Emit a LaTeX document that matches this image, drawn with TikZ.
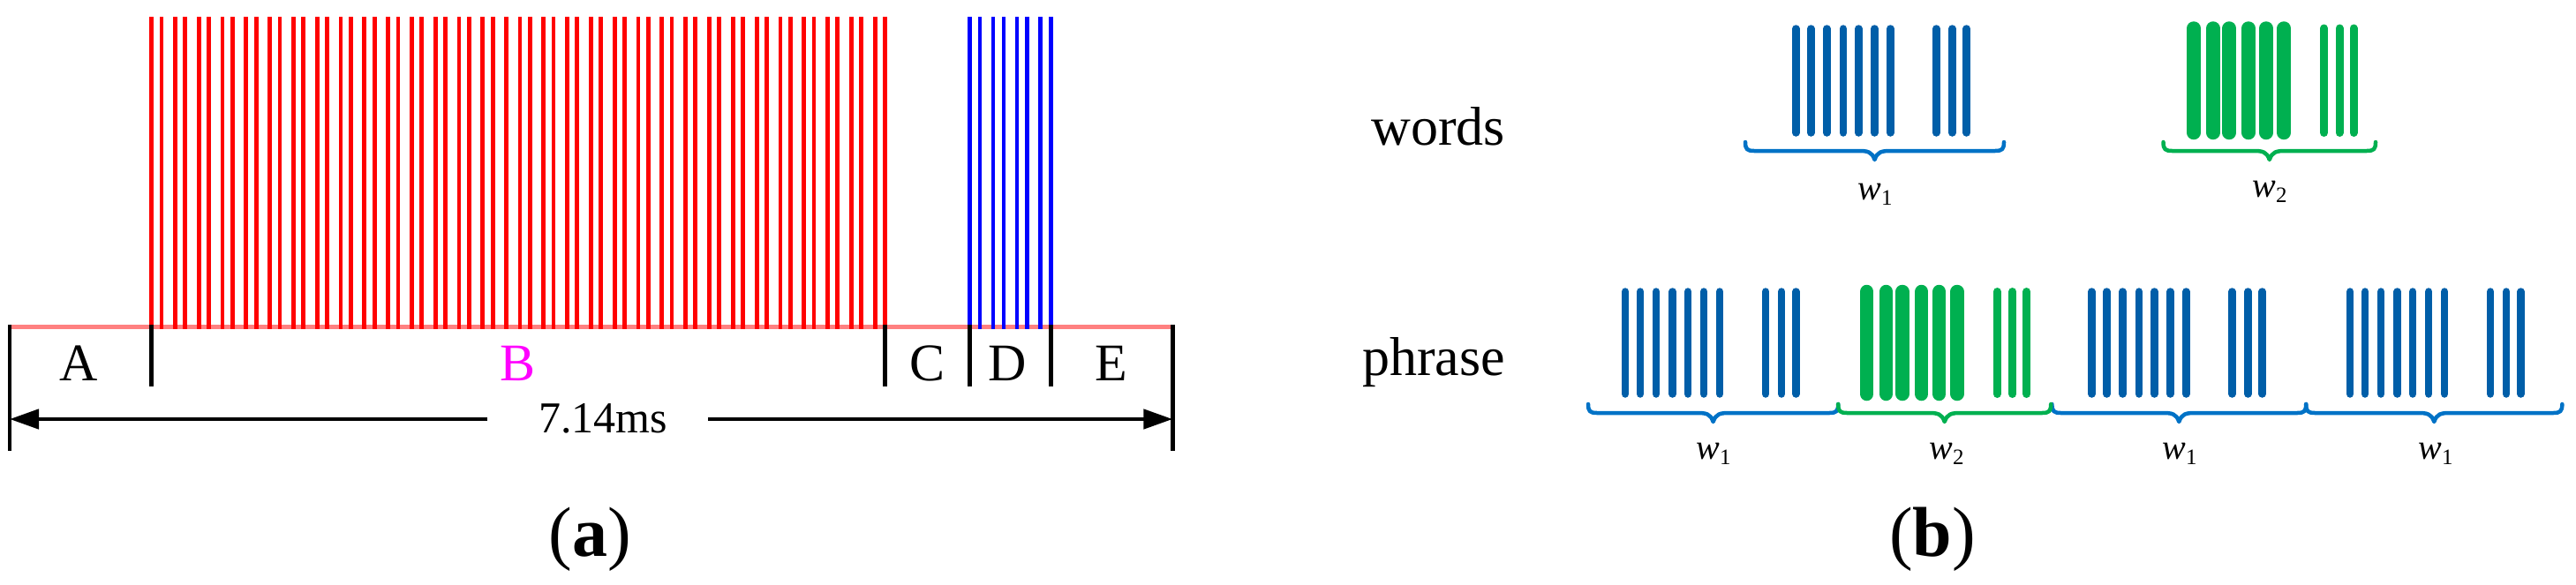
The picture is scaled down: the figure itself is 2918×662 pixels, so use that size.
\documentclass[tikz,border=0pt]{standalone}
\usepackage{fontspec}
\setmainfont{Liberation Serif}
\usetikzlibrary{arrows.meta}
\definecolor{redline}{RGB}{255,0,0}
\definecolor{pinkbase}{RGB}{255,128,128}
\definecolor{blueline}{RGB}{0,0,255}
\definecolor{magentaB}{RGB}{255,0,255}
\definecolor{barblue}{RGB}{0,94,168}
\definecolor{braceblue}{RGB}{0,114,198}
\definecolor{bargreen}{RGB}{0,176,80}
\tikzset{
  redpulse/.style={draw=redline, line width=4.8pt},
  bluepulse/.style={draw=blueline, line width=4.5pt},
  baseln/.style={draw=pinkbase, line width=5.2pt},
  tickln/.style={draw=black, line width=4.6pt},
  dimarrow/.style={draw=black, line width=4.6pt, -{Triangle[length=33pt,width=22pt]}},
  seglabel/.style={font=\fontsize{60}{60}\selectfont, anchor=base, inner sep=0pt},
  panellabel/.style={font=\fontsize{80}{80}\selectfont, anchor=base, inner sep=0pt},
  rowlabel/.style={font=\fontsize{62}{62}\selectfont, anchor=base east, inner sep=0pt},
  wbar/.style={draw=barblue, line width=8.5pt, line cap=round},
  gthick/.style={draw=bargreen, line width=15.5pt, line cap=round},
  gthin/.style={draw=bargreen, line width=9pt, line cap=round},
  bracebl/.style={draw=braceblue, line width=4.5pt, line join=round, line cap=round},
  bracegr/.style={draw=bargreen, line width=4.5pt, line join=round, line cap=round},
  wlabel/.style={font=\fontsize{40}{40}\selectfont, anchor=base, inner sep=0pt}
}
% word w1 bars: #1 = x of first bar, #2 = top y, #3 = bottom y (line centres)
\newcommand\wordone[3]{%
  \foreach \o in {0,17,35,53.5,71,89,107,159,177,193.3}{\draw[wbar] (#1+\o,#2) -- (#1+\o,#3);}}
\newcommand\wordtwo[3]{%
  \foreach \o in {0,21.8,40.2,62,82,102.2}{\draw[gthick] (#1+\o,#2) -- (#1+\o,#3);}
  \foreach \o in {147.5,165,181}{\draw[gthin] (#1+\o,#2) -- (#1+\o,#3);}}
% brace: #1 x1, #2 x2, #3 y of ends, #4 style
\newcommand\wbrace[4]{%
  \pgfmathsetmacro\bxm{(#1+#2)/2}%
  \draw[#4] (#1,#3) .. controls (#1,#3+8) and (#1+2,#3+10) .. (#1+10,#3+10)
    -- (\bxm-18,#3+10) .. controls (\bxm-8,#3+10) and (\bxm-3,#3+11) .. (\bxm,#3+20)
    .. controls (\bxm+3,#3+11) and (\bxm+8,#3+10) .. (\bxm+18,#3+10)
    -- (#2-10,#3+10) .. controls (#2-2,#3+10) and (#2,#3+8) .. (#2,#3);}
\newcommand\wsub[1]{{\itshape w}\raisebox{-6pt}{\fontsize{25}{25}\selectfont #1}}
\begin{document}
\begin{tikzpicture}[x=1pt,y=-1pt]
\useasboundingbox (0,0) rectangle (2918,662);
% ---------------- panel (a) ----------------
\draw[baseln] (11,370.5) -- (1328,370.5);
\foreach \k in {0,...,14}{
  \draw[redpulse] (171.5+26.81*\k,19) -- (171.5+26.81*\k,373);
  \draw[redpulse] (182.9+26.81*\k,19) -- (182.9+26.81*\k,373);}
\draw[redpulse] (573.7,19) -- (573.7,373);
\foreach \k in {0,...,15}{
  \draw[redpulse] (589+26.81*\k,19) -- (589+26.81*\k,373);
  \draw[redpulse] (600.2+26.81*\k,19) -- (600.2+26.81*\k,373);}
\foreach \k in {0,...,3}{
  \draw[bluepulse] (1098.3+26.8*\k,19) -- (1098.3+26.8*\k,373);
  \draw[bluepulse] (1110+26.8*\k,19) -- (1110+26.8*\k,373);}
% ticks
\coordinate (tA) at (11,368);   \coordinate (tAb) at (11,511);
\coordinate (tB) at (171.5,368); \coordinate (tBb) at (171.5,438);
\coordinate (tC) at (1002.5,368); \coordinate (tCb) at (1002.5,438);
\coordinate (tD) at (1098.3,368); \coordinate (tDb) at (1098.3,438);
\coordinate (tE) at (1190.3,368); \coordinate (tEb) at (1190.3,438);
\coordinate (tF) at (1328.3,368); \coordinate (tFb) at (1328.3,511);
\foreach \t in {A,B,C,D,E,F}{\draw[tickln] (t\t) -- (t\t b);}
% segment labels
\node[seglabel] (labA) at (89,431.7) {A};
\node[seglabel, text=magentaB] (labB) at (586.6,431.7) {B};
\node[seglabel] (labC) at (1050,431.7) {C};
\node[seglabel] (labD) at (1141,431.7) {D};
\node[seglabel] (labE) at (1259,431.7) {E};
% duration arrow
\node[font=\fontsize{50}{50}\selectfont, anchor=base, inner sep=0pt] (dur) at (683,490) {7.14ms};
\coordinate (arrL) at (552,475);
\coordinate (arrR) at (802,475);
\coordinate (tipL) at (11,475);
\coordinate (tipR) at (1328.3,475);
\draw[dimarrow] (arrL) -- (tipL);
\draw[dimarrow] (arrR) -- (tipR);
\node[panellabel] (pa) at (668,630) {(\textbf{a})};
% ---------------- panel (b) ----------------
\node[rowlabel] (words) at (1705,164) {words};
\node[rowlabel] (phrase) at (1705,425) {phrase};
% top row
\wordone{2034.3}{32.5}{150.5}
\wordtwo{2485}{32}{150.5}
\wbrace{1977}{2270}{161}{bracebl}
\wbrace{2450.5}{2691}{161}{bracegr}
\node[wlabel] (tw1) at (2124,226) {\wsub{1}};
\node[wlabel] (tw2) at (2571,223) {\wsub{2}};
% bottom row
\wordone{1841.1}{330.5}{446.5}
\wordtwo{2114.7}{330.5}{446.5}
\wordone{2369.4}{330.5}{446.5}
\wordone{2662.2}{330.5}{446.5}
\wbrace{1799}{2082.2}{458}{bracebl}
\wbrace{2324.4}{2612.2}{458}{bracebl}
\wbrace{2612.2}{2902.3}{458}{bracebl}
\wbrace{2082.2}{2323.2}{458}{bracegr}
\node[wlabel] (bw1) at (1941,520) {\wsub{1}};
\node[wlabel] (bw2) at (2205,520) {\wsub{2}};
\node[wlabel] (bw3) at (2469,520) {\wsub{1}};
\node[wlabel] (bw4) at (2759,520) {\wsub{1}};
\node[panellabel] (pb) at (2189,630) {(\textbf{b})};
\end{tikzpicture}
\end{document}
